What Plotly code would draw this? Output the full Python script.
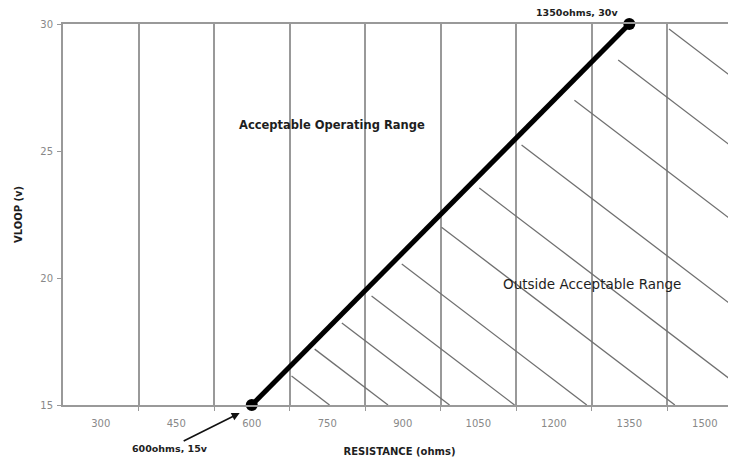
import plotly.graph_objects as go

# Data
resistance = [600, 1350]
vloop = [15, 30]
x_ticks = [300, 450, 600, 750, 900, 1050, 1200, 1350, 1500]
x_tick_labels = ["300", "450", "600", "750", "900", "1050", "1200", "1350", "1500"]
x_grid = [375, 525, 675, 825, 975, 1125, 1275, 1425]
y_ticks = [15, 20, 25, 30]

# Hatch lines (start points in data units) and slope
hatch_x0 = [679, 725, 779, 838, 898, 977, 1052, 1136, 1241, 1328, 1429]
hatch_y0 = [16.14, 17.20, 18.23, 19.29, 20.55, 22.0, 23.54, 25.24, 27.0, 28.58, 29.80]
hatch_slope = -0.0151

X_MIN, X_MAX = 225, 1562
Y_MIN, Y_MAX = 15, 30

FONT = "DejaVu Sans, Verdana, sans-serif"
GRID = "#999999"
TXT = "#1e1e1e"

fig = go.Figure()

# hatch lines
hx, hy = [], []
for x0, y0 in zip(hatch_x0, hatch_y0):
    x1 = x0 + (y0 - Y_MIN) / (-hatch_slope)
    if x1 <= X_MAX:
        y1 = Y_MIN
    else:
        x1 = X_MAX
        y1 = y0 + hatch_slope * (X_MAX - x0)
    hx += [x0, x1, None]
    hy += [y0, y1, None]
fig.add_trace(go.Scatter(x=hx, y=hy, mode="lines",
                         line=dict(color="#707070", width=1.3),
                         hoverinfo="skip", showlegend=False, cliponaxis=True))

# main line
fig.add_trace(go.Scatter(x=resistance, y=vloop, mode="lines+markers",
                         line=dict(color="black", width=5),
                         marker=dict(color="black", size=12),
                         showlegend=False, cliponaxis=False))

fig.update_layout(
    width=728, height=453,
    margin=dict(l=55, r=0, t=16, b=56),
    paper_bgcolor="white", plot_bgcolor="white",
    font=dict(family=FONT, size=11, color="#777777"),
    xaxis=dict(range=[X_MIN, X_MAX], tickvals=x_ticks, ticktext=x_tick_labels,
               showgrid=False, ticks="", zeroline=False, ticklabelstandoff=8,
               showline=True, linecolor=GRID, linewidth=2, mirror=True,
               tickfont=dict(size=10, color="#888888"),
               minor=dict(tickvals=x_grid, showgrid=True, gridcolor=GRID,
                          gridwidth=2, ticks="outside", ticklen=4, tickcolor=GRID),
               title=dict(text="<b>RESISTANCE (ohms)</b>", standoff=20,
                          font=dict(size=10, color=TXT))),
    yaxis=dict(range=[Y_MIN, Y_MAX], tickvals=y_ticks, showgrid=False,
               zeroline=False, ticks="outside", ticklen=4, tickcolor=GRID,
               ticklabelstandoff=2,
               showline=True, linecolor=GRID, linewidth=2,
               tickfont=dict(size=10, color="#888888"),
               title=dict(text="<b>VLOOP (v)</b>", standoff=16,
                          font=dict(size=10, color=TXT))),
)

fig.add_annotation(x=759, y=26.02, xref="x", yref="y", showarrow=False,
                   text="<b>Acceptable Operating Range</b>",
                   font=dict(size=11.5, color=TXT))
fig.add_annotation(x=1275, y=19.76, xref="x", yref="y", showarrow=False,
                   text="Outside Acceptable Range",
                   font=dict(size=13.5, color=TXT))
fig.add_annotation(x=1247, y=1.031, xref="x", yref="paper", showarrow=False,
                   yanchor="middle",
                   text="<b>1350ohms, 30v</b>",
                   font=dict(size=9.5, color=TXT))
fig.add_annotation(x=576, y=-0.021, xref="x", yref="paper", showarrow=True,
                   ax=-70, ay=35, arrowhead=2, arrowsize=1, arrowwidth=1.6,
                   arrowcolor="#111111",
                   text="<b>600ohms, 15v</b>",
                   font=dict(size=9.5, color=TXT))

fig.write_html("out.html")
